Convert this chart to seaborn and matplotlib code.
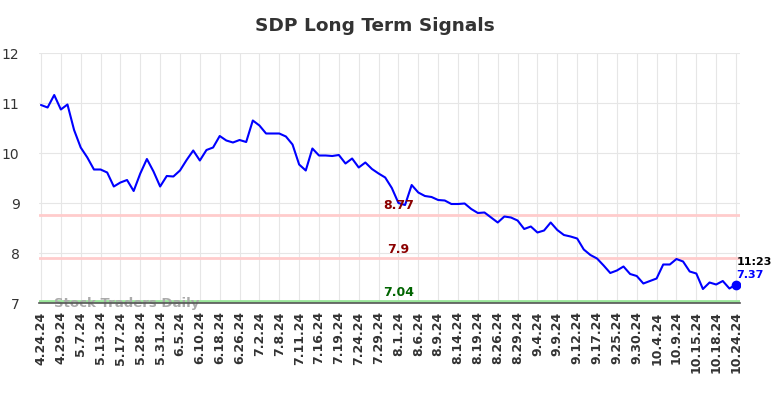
import matplotlib
matplotlib.use("Agg")
import matplotlib.pyplot as plt
import seaborn as sns
import pandas as pd
import numpy as np

title = "SDP Long Term Signals"
tick_labels = ["4.24.24", "4.29.24", "5.7.24", "5.13.24", "5.17.24", "5.28.24", "5.31.24",
               "6.5.24", "6.10.24", "6.18.24", "6.26.24", "7.2.24", "7.8.24", "7.11.24",
               "7.16.24", "7.19.24", "7.24.24", "7.29.24", "8.1.24", "8.6.24", "8.9.24",
               "8.14.24", "8.19.24", "8.26.24", "8.29.24", "9.4.24", "9.9.24", "9.12.24",
               "9.17.24", "9.25.24", "9.30.24", "10.4.24", "10.9.24", "10.15.24",
               "10.18.24", "10.24.24"]
prices = [10.96, 10.91, 11.16, 10.87, 10.97, 10.46, 10.11, 9.91, 9.67, 9.67,
          9.61, 9.33, 9.41, 9.46, 9.24, 9.59, 9.88, 9.63, 9.33, 9.54,
          9.53, 9.65, 9.86, 10.05, 9.85, 10.06, 10.11, 10.34, 10.25, 10.21,
          10.26, 10.22, 10.65, 10.55, 10.39, 10.39, 10.39, 10.33, 10.17, 9.77,
          9.65, 10.09, 9.95, 9.95, 9.94, 9.96, 9.79, 9.89, 9.71, 9.81,
          9.68, 9.59, 9.51, 9.30, 9.00, 8.96, 9.36, 9.21, 9.14, 9.12,
          9.06, 9.05, 8.98, 8.98, 8.99, 8.88, 8.80, 8.81, 8.71, 8.61,
          8.73, 8.71, 8.65, 8.48, 8.53, 8.41, 8.45, 8.61, 8.46, 8.36,
          8.33, 8.29, 8.07, 7.96, 7.89, 7.75, 7.60, 7.65, 7.73, 7.58,
          7.54, 7.39, 7.44, 7.49, 7.77, 7.77, 7.88, 7.83, 7.63, 7.59,
          7.28, 7.41, 7.37, 7.44, 7.29, 7.37]
signal_levels = [8.77, 7.9, 7.04]
signal_labels = ["8.77", "7.9", "7.04"]
signal_line_colors = ["#ffcccc", "#ffcccc", "#99e699"]
signal_text_colors = ["#8b0000", "#8b0000", "#006400"]
last_time = "11:23"
last_value = "7.37"
watermark = "Stock Traders Daily"

sns.set_style("whitegrid", {"grid.color": "#e6e6e6", "axes.edgecolor": "#e6e6e6"})
plt.rcParams['font.family'] = ['DejaVu Sans']

df = pd.DataFrame({"idx": np.arange(len(prices)), "price": prices})

fig = plt.figure(figsize=(7.84, 3.98), dpi=100)
ax = fig.add_axes([39/784, 1 - 303/398, (740-39)/784, (303-53)/398])

for lvl, lc in zip(signal_levels, signal_line_colors):
    ax.axhline(lvl, color=lc, lw=2, zorder=1)

sns.lineplot(data=df, x="idx", y="price", ax=ax, color="#0000ff", lw=1.5, zorder=3)
ax.plot(df["idx"].iloc[-1], df["price"].iloc[-1], "o", color="#0000ff", ms=6, zorder=4)

ax.set_xlim(-0.3, len(prices) - 1 + 0.6)
ax.set_ylim(7, 12)
ax.set_yticks([7, 8, 9, 10, 11, 12])
tick_pos = list(range(0, len(prices), 3))
ax.set_xticks(tick_pos)
ax.set_xticklabels(tick_labels, rotation=90, fontsize=9, fontweight="bold", color="#333333")
ax.tick_params(axis="y", labelsize=10, colors="#333333", length=0, pad=14)
ax.tick_params(axis="x", length=0, pad=6)
ax.set_xlabel("")
ax.set_ylabel("")
for s in ["top", "right", "left"]:
    ax.spines[s].set_visible(False)
ax.spines["bottom"].set_color("#555555")
ax.spines["bottom"].set_linewidth(1.2)

mid = 54.0
for lvl, lab, tc in zip(signal_levels, signal_labels, signal_text_colors):
    ax.text(mid, lvl + 0.05, lab, color=tc, fontsize=9, fontweight="bold",
            ha="center", va="bottom", zorder=5)

ax.text(len(prices) - 1 + 0.05, 7.83, last_time, color="#000000", fontsize=8,
        fontweight="bold", ha="left", va="center", clip_on=False)
ax.text(len(prices) - 1 + 0.05, 7.57, last_value, color="#0000ff", fontsize=8,
        fontweight="bold", ha="left", va="center", clip_on=False)

ax.text(2, 7.0, watermark, color="#aaaaaa", fontsize=9.5, fontweight="bold",
        ha="left", va="center", zorder=2)

fig.text(375/784, 1 - 26/398, title, ha="center", va="center", fontsize=13.3,
         fontweight="bold", color="#333333")

fig.savefig("out.png", dpi=100)
